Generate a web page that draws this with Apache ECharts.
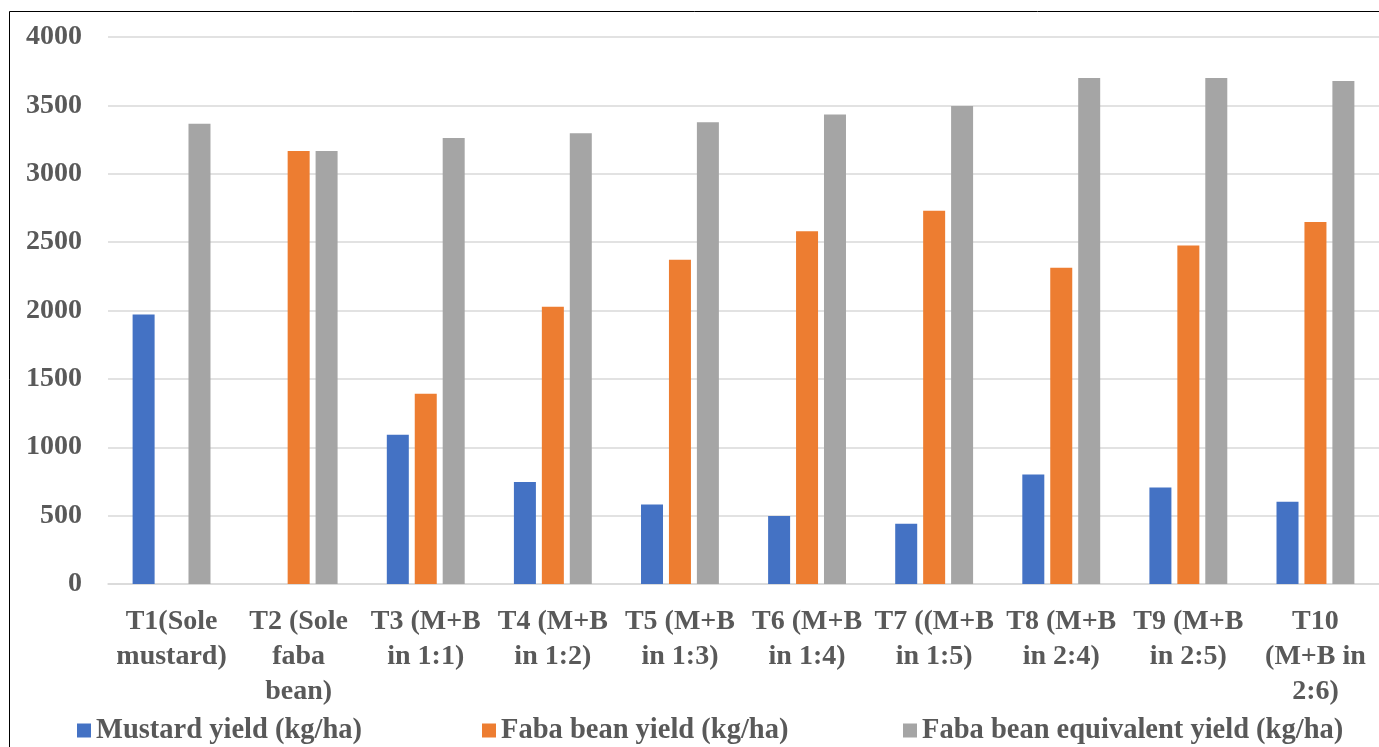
<!DOCTYPE html>
<html>
<head>
<meta charset="utf-8">
<script src="https://cdn.jsdelivr.net/npm/echarts@6/dist/echarts.min.js"></script>
<style>
html,body{margin:0;padding:0;background:#fff;}
#chart{width:1379px;height:747px;}
</style>
</head>
<body>
<div id="chart"></div>
<script>
var categories = [
  "T1(Sole\nmustard)",
  "T2 (Sole\nfaba\nbean)",
  "T3 (M+B\nin 1:1)",
  "T4 (M+B\nin 1:2)",
  "T5 (M+B\nin 1:3)",
  "T6 (M+B\nin 1:4)",
  "T7 ((M+B\nin 1:5)",
  "T8 (M+B\nin 2:4)",
  "T9 (M+B\nin 2:5)",
  "T10\n(M+B in\n2:6)"
];
var seriesNames = ["Mustard yield (kg/ha)", "Faba bean yield (kg/ha)", "Faba bean equivalent yield (kg/ha)"];
var mustardYield = [1970, null, 1092, 746, 582, 497, 440, 800, 706, 602];
var fabaBeanYield = [null, 3167, 1391, 2027, 2371, 2580, 2729, 2312, 2475, 2648];
var fabaBeanEquivalentYield = [3365, 3167, 3261, 3296, 3377, 3434, 3495, 3700, 3700, 3678];
var yTicks = {min: 0, max: 4000, interval: 500};

var FONT = "'Liberation Serif', 'Times New Roman', serif";
var TXT = "#595959";
var colors = ["#4472C4", "#ED7D31", "#A5A5A5"];

var chart = echarts.init(document.getElementById('chart'), null, {renderer: 'canvas'});
var legendLefts = [77, 482, 903];
var option = {
  animation: false,
  backgroundColor: '#ffffff',
  color: colors,
  graphic: [{
    type: 'rect',
    shape: {x: 9.5, y: 11.5, width: 1400, height: 800},
    style: {fill: 'none', stroke: '#000', lineWidth: 1},
    silent: true,
    z: 100
  }],
  grid: {left: 108, top: 37, width: 1273, height: 547, containLabel: false},
  legend: seriesNames.map(function (n, i) {
    return {
      data: [n],
      left: legendLefts[i],
      top: 716,
      padding: 0,
      icon: 'rect',
      itemWidth: 14,
      itemHeight: 14,
      itemGap: 0,
      textStyle: {fontFamily: FONT, fontWeight: 'bold', fontSize: 28.5, color: TXT},
      selectedMode: false
    };
  }),
  xAxis: {
    type: 'category',
    data: categories,
    axisTick: {show: false},
    axisLine: {show: true, lineStyle: {color: '#d9d9d9', width: 1.5}},
    axisLabel: {
      interval: 0,
      margin: 20,
      fontFamily: FONT, fontWeight: 'bold', fontSize: 28, color: TXT,
      lineHeight: 35, align: 'center', verticalAlign: 'top'
    }
  },
  yAxis: {
    type: 'value',
    min: yTicks.min, max: yTicks.max, interval: yTicks.interval,
    axisLine: {show: false},
    axisTick: {show: false},
    splitLine: {lineStyle: {color: '#d9d9d9', width: 1.5}},
    axisLabel: {
      margin: 26, fontFamily: FONT, fontWeight: 'bold', fontSize: 28, color: TXT,
      formatter: function (v) { return String(v); }
    }
  },
  series: [
    {name: seriesNames[0], type: 'bar', data: mustardYield, barWidth: 22, barGap: '27%'},
    {name: seriesNames[1], type: 'bar', data: fabaBeanYield, barWidth: 22, barGap: '27%'},
    {name: seriesNames[2], type: 'bar', data: fabaBeanEquivalentYield, barWidth: 22, barGap: '27%'}
  ]
};
chart.setOption(option);
</script>
</body>
</html>
